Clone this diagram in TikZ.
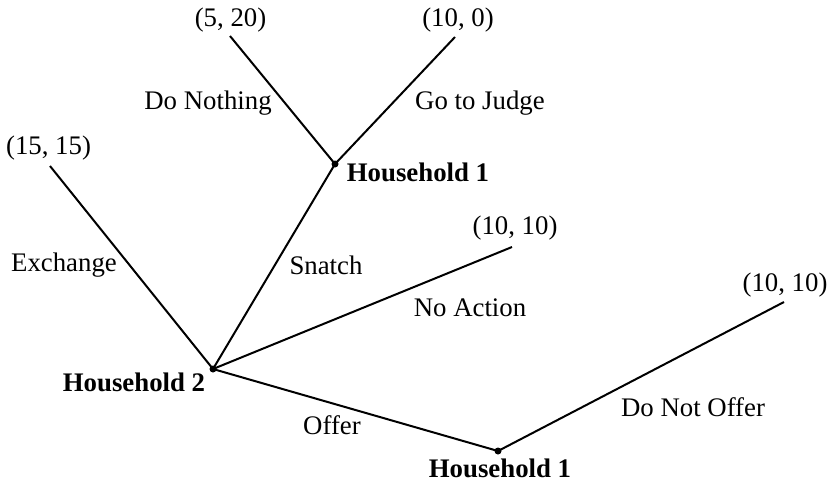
\documentclass[tikz,border=0pt]{standalone}
\usepackage{fontspec}
\setmainfont{Liberation Serif}
\begin{document}
\begin{tikzpicture}[x=1pt,y=-1pt,
  every node/.style={font=\fontsize{26.8}{30}\selectfont, inner sep=0pt},
  dot/.style={circle, fill=black, minimum size=7pt, inner sep=0pt},
  edge/.style={line width=2pt, black},
  lbl/.style={anchor=center},
  pl/.style={font=\fontsize{26.8}{30}\selectfont\bfseries}]
\useasboundingbox (0,0) rectangle (829,483);
% decision nodes
\node[dot] (h2) at (213,369) {};
\node[dot] (h1a) at (335,164) {};
\node[dot] (h1b) at (498,451) {};
% terminal ends
\coordinate (e15) at (50,166);
\coordinate (e520) at (230,36);
\coordinate (e100) at (455,37);
\coordinate (e1010a) at (512,247);
\coordinate (e1010b) at (784,302);
% edges
\draw[edge] (h2.center) -- (e15);
\draw[edge] (h2.center) -- (h1a.center);
\draw[edge] (h2.center) -- (e1010a);
\draw[edge] (h2.center) -- (h1b.center);
\draw[edge] (h1a.center) -- (e520);
\draw[edge] (h1a.center) -- (e100);
\draw[edge] (h1b.center) -- (e1010b);
% payoffs
\node[lbl] (p520) at (230.5,20) {(5, 20)};
\node[lbl] (p100) at (458,20) {(10, 0)};
\node[lbl] (p1515) at (48.5,148) {(15, 15)};
\node[lbl] (p1010a) at (515,228) {(10, 10)};
\node[lbl] (p1010b) at (785,285) {(10, 10)};
% action labels
\node[lbl] (ldn) at (208,103) {Do Nothing};
\node[lbl] (lgj) at (480,103) {Go to Judge};
\node[lbl] (lex) at (64,265) {Exchange};
\node[lbl] (lsn) at (326,265) {Snatch};
\node[lbl] (lna) at (470,308) {No Action};
\node[lbl] (lof) at (332,425) {Offer};
\node[lbl] (ldno) at (693,407) {Do Not Offer};
% player labels
\node[lbl,pl] (t1a) at (418,172.5) {Household 1};
\node[lbl,pl] (t2) at (134,382.5) {Household 2};
\node[lbl,pl] (t1b) at (500,468) {Household 1};
\end{tikzpicture}
\end{document}
